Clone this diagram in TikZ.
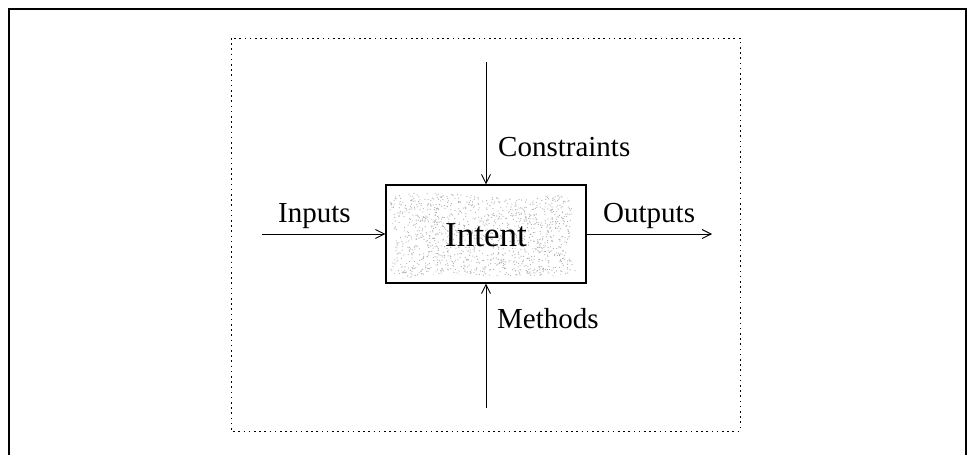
\documentclass[tikz,border=0pt]{standalone}
\usepackage{fontspec}
\setmainfont{Liberation Serif}
\usetikzlibrary{arrows.meta}
\begin{document}
\begin{tikzpicture}[x=1pt,y=-1pt,
  flow/.style={line width=0.9pt,-{Straight Barb[length=9pt,width=9pt,line width=0.9pt]}},
  lbl/.style={anchor=base west,inner sep=0pt,font=\fontsize{29}{32}\selectfont},
  mainbox/.style={draw,line width=1.2pt,minimum width=200pt,minimum height=98pt,inner sep=0pt}]
\useasboundingbox (0,0) rectangle (969,455);
% outer frame (open at the lower edge)
\draw[line width=1.6pt] (9,460) -- (9,9) -- (966,9) -- (966,460);
% dotted inner frame
\draw[line width=1pt,dash pattern=on 1.6pt off 3.6pt] (231,38) rectangle (740,431);
% stippled shading inside the box
\begin{scope}
  \clip plot[smooth cycle,tension=0.7] coordinates {(393,198) (450,194) (520,199) (565,196) (572,225) (566,250) (574,272) (500,276) (440,274) (393,276) (396,240)};
  \pgfmathsetseed{17}
  \foreach \k in {1,...,1500}{
    \pgfmathsetmacro\px{390+rnd*186}
    \pgfmathsetmacro\py{192+rnd*88}
    \fill[gray!65] (\px,\py) circle (0.6pt);
  }
\end{scope}
\node[mainbox] (intent) at (486,234) {};
\node[anchor=base,inner sep=0pt,font=\fontsize{35}{40}\selectfont] (title) at (486,246) {Intent};
% labels
\node[lbl] (inputs) at (278,222) {Inputs};
\node[lbl] (outputs) at (603,222) {Outputs};
\node[lbl] (constraints) at (498,156) {Constraints};
\node[lbl] (methods) at (497,328) {Methods};
% free ends of the connectors
\coordinate (inTail) at (262,234);
\coordinate (outHead) at (712,234);
\coordinate (topTail) at (486,62);
\coordinate (botTail) at (486,408);
\draw[flow] (inTail) -- (intent.west);
\draw[flow] (intent.east) -- (outHead);
\draw[flow] (topTail) -- (intent.north);
\draw[flow] (botTail) -- (intent.south);
\end{tikzpicture}
\end{document}
